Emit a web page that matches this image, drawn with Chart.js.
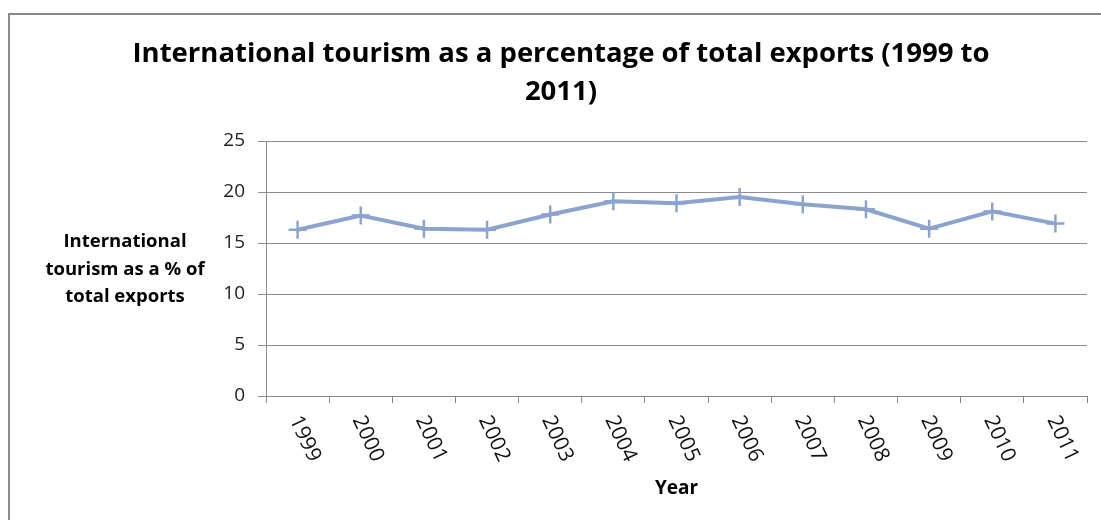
<!DOCTYPE html>
<html>
<head>
<meta charset="utf-8">
<title>International tourism as a percentage of total exports</title>
<script src="https://cdn.jsdelivr.net/npm/chart.js@4/dist/chart.umd.min.js"></script>
<style>
  html, body { margin: 0; padding: 0; background: #fff; }
  #wrap { width: 1101px; height: 520px; }
</style>
</head>
<body>
<div id="wrap"><canvas id="tourismChart" width="1101" height="520"></canvas></div>
<script>
// data
const years = ['1999', '2000', '2001', '2002', '2003', '2004', '2005', '2006', '2007', '2008', '2009', '2010', '2011'];
const tourismShare = [16.3, 17.7, 16.4, 16.3, 17.8, 19.1, 18.9, 19.5, 18.8, 18.3, 16.4, 18.1, 16.9];
const yTicks = [0, 5, 10, 15, 20, 25];

const titleLines = ['International tourism as a percentage of total exports (1999 to', '2011)'];
const yTitleLines = ['International', 'tourism as a % of', 'total exports'];
const xTitle = 'Year';

const FONT = '"Open Sans", Lato, sans-serif';
const LINE_BLUE = '#8ba4cf';
const GRID_GREY = '#8c8c8c';

// frame, title, horizontal y-title and slanted year labels
const decorations = {
    id: 'decorations',
    afterDraw(chart) {
        const ctx = chart.ctx;
        const area = chart.chartArea;
        const xScale = chart.scales.x;

        ctx.save();
        // outer frame
        ctx.strokeStyle = '#8a8a8a';
        ctx.lineWidth = 2;
        ctx.strokeRect(9, 14, 1110, 540);

        // main title
        ctx.fillStyle = '#000';
        ctx.textAlign = 'center';
        ctx.textBaseline = 'middle';
        ctx.font = 'bold 27.5px ' + FONT;
        titleLines.forEach((t, i) => ctx.fillText(t, 561, 54 + i * 38));

        // y axis title, horizontal
        ctx.font = 'bold 18.5px ' + FONT;
        yTitleLines.forEach((t, i) => ctx.fillText(t, 125, 242 + i * 27.5));

        // year labels turned clockwise
        ctx.font = '21px ' + FONT;
        ctx.fillStyle = '#111';
        ctx.textAlign = 'left';
        years.forEach((label, i) => {
            const x = xScale.getPixelForTick(i);
            ctx.save();
            ctx.translate(x - 3, area.bottom + 21);
            ctx.rotate(65 * Math.PI / 180);
            ctx.fillText(label, 0, 0);
            ctx.restore();
        });
        ctx.restore();
    }
};

new Chart(document.getElementById('tourismChart').getContext('2d'), {
    type: 'line',
    data: {
        labels: years,
        datasets: [{
            label: 'International tourism as a % of total exports',
            data: tourismShare,
            borderColor: LINE_BLUE,
            borderWidth: 4,
            pointStyle: 'cross',
            pointRadius: 9,
            pointBorderWidth: 2.5,
            pointBorderColor: LINE_BLUE,
            pointBackgroundColor: LINE_BLUE,
            tension: 0
        }]
    },
    options: {
        responsive: false,
        animation: false,
        layout: { padding: { top: 141, left: 0, right: 14, bottom: 20 } },
        plugins: {
            legend: { display: false },
            title: { display: false },
            tooltip: { enabled: false }
        },
        scales: {
            x: {
                offset: true,
                grid: {
                    offset: true,
                    drawOnChartArea: false,
                    drawTicks: true,
                    tickLength: 7,
                    color: GRID_GREY
                },
                border: { color: GRID_GREY, width: 1 },
                ticks: { display: false },
                title: {
                    display: true,
                    text: xTitle,
                    color: '#000',
                    font: { family: FONT, size: 19, weight: 'bold' },
                    padding: { top: 0, bottom: 0 }
                },
                afterFit(scale) { scale.height = 104; }
            },
            y: {
                min: 0,
                max: 25,
                afterBuildTicks(scale) { scale.ticks = yTicks.map(v => ({ value: v })); },
                grid: {
                    color: GRID_GREY,
                    tickLength: 8,
                    drawTicks: true
                },
                border: { color: GRID_GREY, width: 1 },
                ticks: {
                    color: '#222',
                    padding: 13,
                    font: { family: FONT, size: 19 }
                },
                afterFit(scale) { scale.width = 266; }
            }
        }
    },
    plugins: [decorations]
});
</script>
</body>
</html>
